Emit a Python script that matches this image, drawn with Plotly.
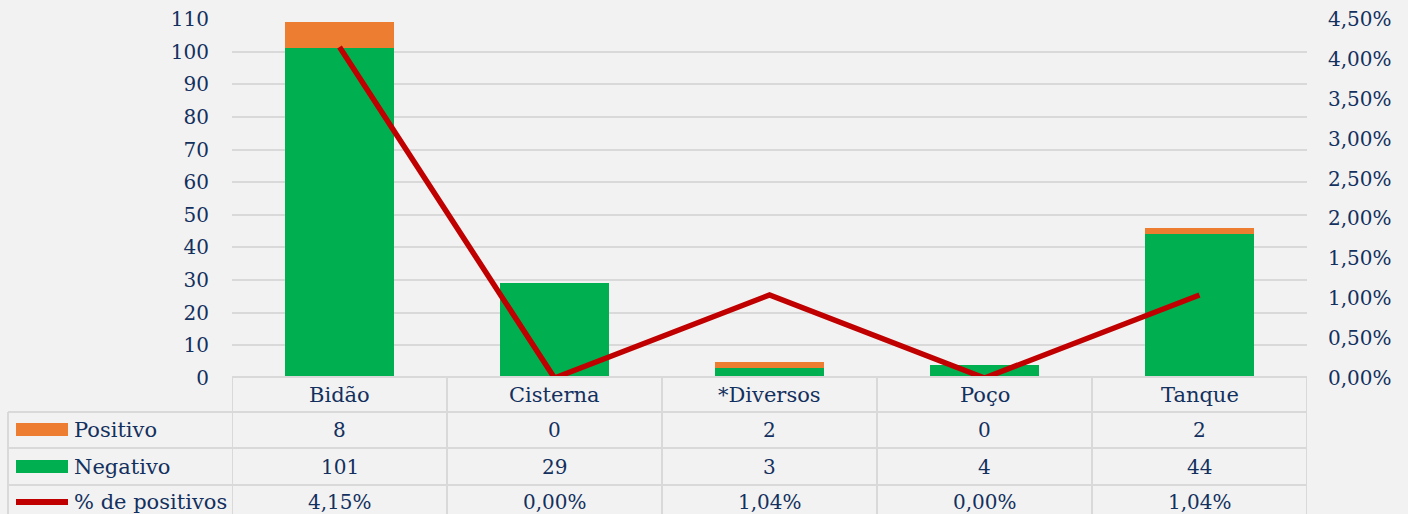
import plotly.graph_objects as go

categories = ["Bidão", "Cisterna", "*Diversos", "Poço", "Tanque"]
positivo = [8, 0, 2, 0, 2]
negativo = [101, 29, 3, 4, 44]
pct_positivos = [4.15, 0.00, 1.04, 0.00, 1.04]
series_names = ["Positivo", "Negativo", "% de positivos"]

W, H = 1408, 514
NAVY = "#13305e"
GRID = "#d9d9d9"
FONT = "DejaVu Serif"
FS = 20
FS_TXT = 21

def px(x):
    return x / W

def py(y):
    return 1 - y / H

xs = list(range(len(categories)))

fig = go.Figure()
fig.add_trace(go.Bar(x=xs, y=negativo, name=series_names[1], marker_color="#00B050",
                     marker_line_width=0))
fig.add_trace(go.Bar(x=xs, y=positivo, name=series_names[0], marker_color="#ED7D31",
                     marker_line_width=0))
fig.add_trace(go.Scatter(x=xs, y=[v / 100 for v in pct_positivos], name=series_names[2],
                         mode="lines", line=dict(color="#C00000", width=5.5), yaxis="y2"))

shapes = []
annotations = []
row_lines = [377, 412, 448, 485]
row_centers = [395, 430, 467, 502]
left_x0 = 8
for i, yl in enumerate(row_lines):
    if i == 0:
        shapes.append(dict(type="line", xref="x", yref="paper", x0=-0.5, x1=4.5,
                           y0=py(yl), y1=py(yl), line=dict(color=GRID, width=2)))
    else:
        shapes.append(dict(type="line", xref="paper", yref="paper", x0=px(left_x0),
                           x1=px(1307), y0=py(yl), y1=py(yl), line=dict(color=GRID, width=2)))
for k in range(len(categories) + 1):
    shapes.append(dict(type="line", xref="x", yref="paper", x0=k - 0.5, x1=k - 0.5,
                       y0=py(377), y1=-0.05, line=dict(color=GRID, width=2)))
shapes.append(dict(type="line", xref="paper", yref="paper", x0=px(left_x0), x1=px(left_x0),
                   y0=py(412), y1=-0.05, line=dict(color=GRID, width=2)))

shapes.append(dict(type="rect", xref="paper", yref="paper", x0=px(16), x1=px(68),
                   y0=py(436), y1=py(423), fillcolor="#ED7D31", line=dict(width=0)))
shapes.append(dict(type="rect", xref="paper", yref="paper", x0=px(16), x1=px(68),
                   y0=py(473), y1=py(460), fillcolor="#00B050", line=dict(width=0)))
shapes.append(dict(type="line", xref="paper", yref="paper", x0=px(16), x1=px(68),
                   y0=py(502), y1=py(502), line=dict(color="#C00000", width=6)))

for j, name in enumerate(series_names):
    annotations.append(dict(text=name, xref="paper", yref="paper", x=px(72),
                            y=py(row_centers[j + 1]), xanchor="left", yanchor="middle",
                            showarrow=False, font=dict(family=FONT, size=FS_TXT, color=NAVY)))

rows = [
    categories,
    [str(v) for v in positivo],
    [str(v) for v in negativo],
    [f"{v:.2f}%".replace(".", ",") for v in pct_positivos],
]
for r, vals in enumerate(rows):
    for i, t in enumerate(vals):
        annotations.append(dict(text=t, xref="x", yref="paper", x=i, y=py(row_centers[r]),
                                xanchor="center", yanchor="middle", showarrow=False,
                                font=dict(family=FONT, size=FS_TXT if r == 0 else FS,
                                          color=NAVY)))

fig.update_layout(
    width=W, height=H, autosize=False,
    margin=dict(l=0, r=0, t=0, b=0, pad=0, autoexpand=False),
    paper_bgcolor="#f2f2f2", plot_bgcolor="#f2f2f2",
    barmode="stack", bargap=0.49,
    showlegend=False,
    separators=",.",
    font=dict(family=FONT, size=FS, color=NAVY),
    xaxis=dict(domain=[px(232), px(1307)], range=[-0.5, 4.5], showticklabels=False,
               showgrid=False, zeroline=False, showline=False, fixedrange=True,
               automargin=False),
    yaxis=dict(domain=[py(378), py(19)], range=[0, 110], dtick=10, showgrid=True,
               gridcolor=GRID, gridwidth=2, zeroline=False, showline=False, automargin=False,
               ticks="", ticklabelstandoff=22, tickfont=dict(family=FONT, size=FS, color=NAVY)),
    yaxis2=dict(overlaying="y", side="right", range=[0, 0.045], dtick=0.005, automargin=False,
                tickformat=".2%", showgrid=False, zeroline=False, showline=False,
                ticks="", ticklabelstandoff=20, tickfont=dict(family=FONT, size=FS, color=NAVY)),
    shapes=shapes,
    annotations=annotations,
)

fig.write_html("out.html", config={"responsive": False, "displayModeBar": False},
               post_script="document.body.style.margin='0';document.body.style.overflow='hidden';")
